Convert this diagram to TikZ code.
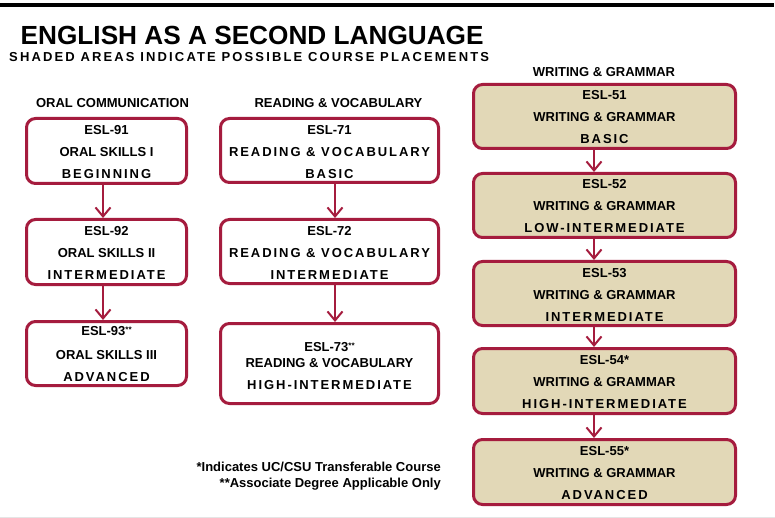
\documentclass[tikz,border=0pt]{standalone}
\usepackage{fontspec}
\setmainfont{Liberation Sans}
\newfontfamily\lspfont[LetterSpace=15]{Liberation Sans}
\newfontfamily\lspwide[LetterSpace=16.5]{Liberation Sans}
\usetikzlibrary{arrows.meta}
\definecolor{esred}{HTML}{A51C3E}
\definecolor{esfill}{HTML}{E2D8B7}
\newcommand\lsp[1]{{\lspfont\bfseries #1}}
\newcommand\stars[1]{\raisebox{3pt}{\fontsize{8}{8}\selectfont #1}}
\begin{document}
\begin{tikzpicture}[x=1pt,y=-1pt,
  course/.style={draw=esred, line width=3pt, rounded corners=9pt, inner sep=0pt},
  txt/.style={align=center, font=\fontsize{13}{22}\selectfont\bfseries, inner sep=0pt},
  cA/.style={course, minimum width=160pt},
  cB/.style={course, minimum width=218pt},
  cC/.style={course, fill=esfill, minimum width=262pt},
  arr/.style={draw=esred, line width=2pt, -{Straight Barb[length=9pt,width=15pt,line width=2pt]}},
  head/.style={font=\fontsize{13}{13}\selectfont\bfseries, inner sep=0pt},
  foot/.style={font=\fontsize{13}{13}\selectfont\bfseries, inner sep=0pt, anchor=base east}]
\useasboundingbox (0,0) rectangle (775,518);
\fill[white] (0,0) rectangle (775,518);
\fill[black] (0,3) rectangle (774,7);
\draw[black!10, line width=1pt] (0,517) -- (775,517);

\node[anchor=base west, inner sep=0pt, font=\fontsize{26.2}{26}\selectfont\bfseries] (title) at (20.5,45) {ENGLISH AS A SECOND LANGUAGE};
\node[anchor=base west, inner sep=0pt] (sub) at (9,62) {\fontsize{13}{13}\selectfont{\lspwide\bfseries SHADED AREAS INDICATE POSSIBLE COURSE PLACEMENTS}};

\node[head] (hA) at (112.5,103) {ORAL COMMUNICATION};
\node[head] (hB) at (338.5,103) {READING \& VOCABULARY};
\node[head] (hC) at (604,72) {WRITING \& GRAMMAR};

% column A
\node[cA, minimum height=65pt] (a1) at (106.5,151) {};
\node[txt] (a1t) at ([yshift=-1.3pt]a1.center) {ESL-91\\ORAL SKILLS I\\\lsp{BEGINNING}};
\node[cA, minimum height=65pt] (a2) at (106.5,252) {};
\node[txt] (a2t) at ([yshift=-1.3pt]a2.center) {ESL-92\\ORAL SKILLS II\\\lsp{INTERMEDIATE}};
\node[cA, minimum height=64pt] (a3) at (106.5,353.5) {};
\node[txt] (a3t) at ([yshift=-0.5pt]a3.center) {ESL-93\stars{**}\\[2pt]ORAL SKILLS III\\\lsp{ADVANCED}};

% column B
\node[cB, minimum height=64pt] (b1) at (329.5,150.5) {};
\node[txt] (b1t) at ([yshift=-1.3pt]b1.center) {ESL-71\\\lsp{READING \& VOCABULARY}\\\lsp{BASIC}};
\node[cB, minimum height=64pt] (b2) at (329.5,251.5) {};
\node[txt] (b2t) at ([yshift=-1.3pt]b2.center) {ESL-72\\\lsp{READING \& VOCABULARY}\\\lsp{INTERMEDIATE}};
\node[cB, minimum height=80pt] (b3) at (329.5,363.5) {};
\node[txt] (b3t) at ([yshift=-3pt]b3.center) {ESL-73\stars{**}\\[-6pt]READING \& VOCABULARY\\\lsp{HIGH-INTERMEDIATE}};

% column C
\node[cC, minimum height=64pt] (c1) at (604.5,116.5) {};
\node[txt] (c1t) at ([yshift=-1pt]c1.center) {ESL-51\\WRITING \& GRAMMAR\\\lsp{BASIC}};
\node[cC, minimum height=64pt] (c2) at (604.5,205.5) {};
\node[txt] (c2t) at ([yshift=-1pt]c2.center) {ESL-52\\WRITING \& GRAMMAR\\\lsp{LOW-INTERMEDIATE}};
\node[cC, minimum height=64pt] (c3) at (604.5,293.5) {};
\node[txt] (c3t) at ([yshift=-1pt]c3.center) {ESL-53\\WRITING \& GRAMMAR\\\lsp{INTERMEDIATE}};
\node[cC, minimum height=65pt] (c4) at (604.5,381) {};
\node[txt] (c4t) at ([yshift=-1pt]c4.center) {ESL-54*\\WRITING \& GRAMMAR\\\lsp{HIGH-INTERMEDIATE}};
\node[cC, minimum height=65pt] (c5) at (604.5,472) {};
\node[txt] (c5t) at ([yshift=-1pt]c5.center) {ESL-55*\\WRITING \& GRAMMAR\\\lsp{ADVANCED}};

% arrows
\draw[arr] ([xshift=-3.5pt]a1.south) -- ([xshift=-3.5pt]a2.north);
\draw[arr] ([xshift=-3.5pt]a2.south) -- ([xshift=-3.5pt]a3.north);
\draw[arr] ([xshift=5.5pt]b1.south) -- ([xshift=5.5pt]b2.north);
\draw[arr] ([xshift=5.5pt]b2.south) -- ([xshift=5.5pt]b3.north);
\draw[arr] ([xshift=-10.5pt]c1.south) -- ([xshift=-10.5pt]c2.north);
\draw[arr] ([xshift=-10.5pt]c2.south) -- ([xshift=-10.5pt]c3.north);
\draw[arr] ([xshift=-10.5pt]c3.south) -- ([xshift=-10.5pt]c4.north);
\draw[arr] ([xshift=-10.5pt]c4.south) -- ([xshift=-10.5pt]c5.north);

% footnotes
\node[foot] (f1) at (441,471) {*Indicates UC/CSU Transferable Course};
\node[foot] (f2) at (441,487) {**Associate Degree Applicable Only};
\end{tikzpicture}
\end{document}
